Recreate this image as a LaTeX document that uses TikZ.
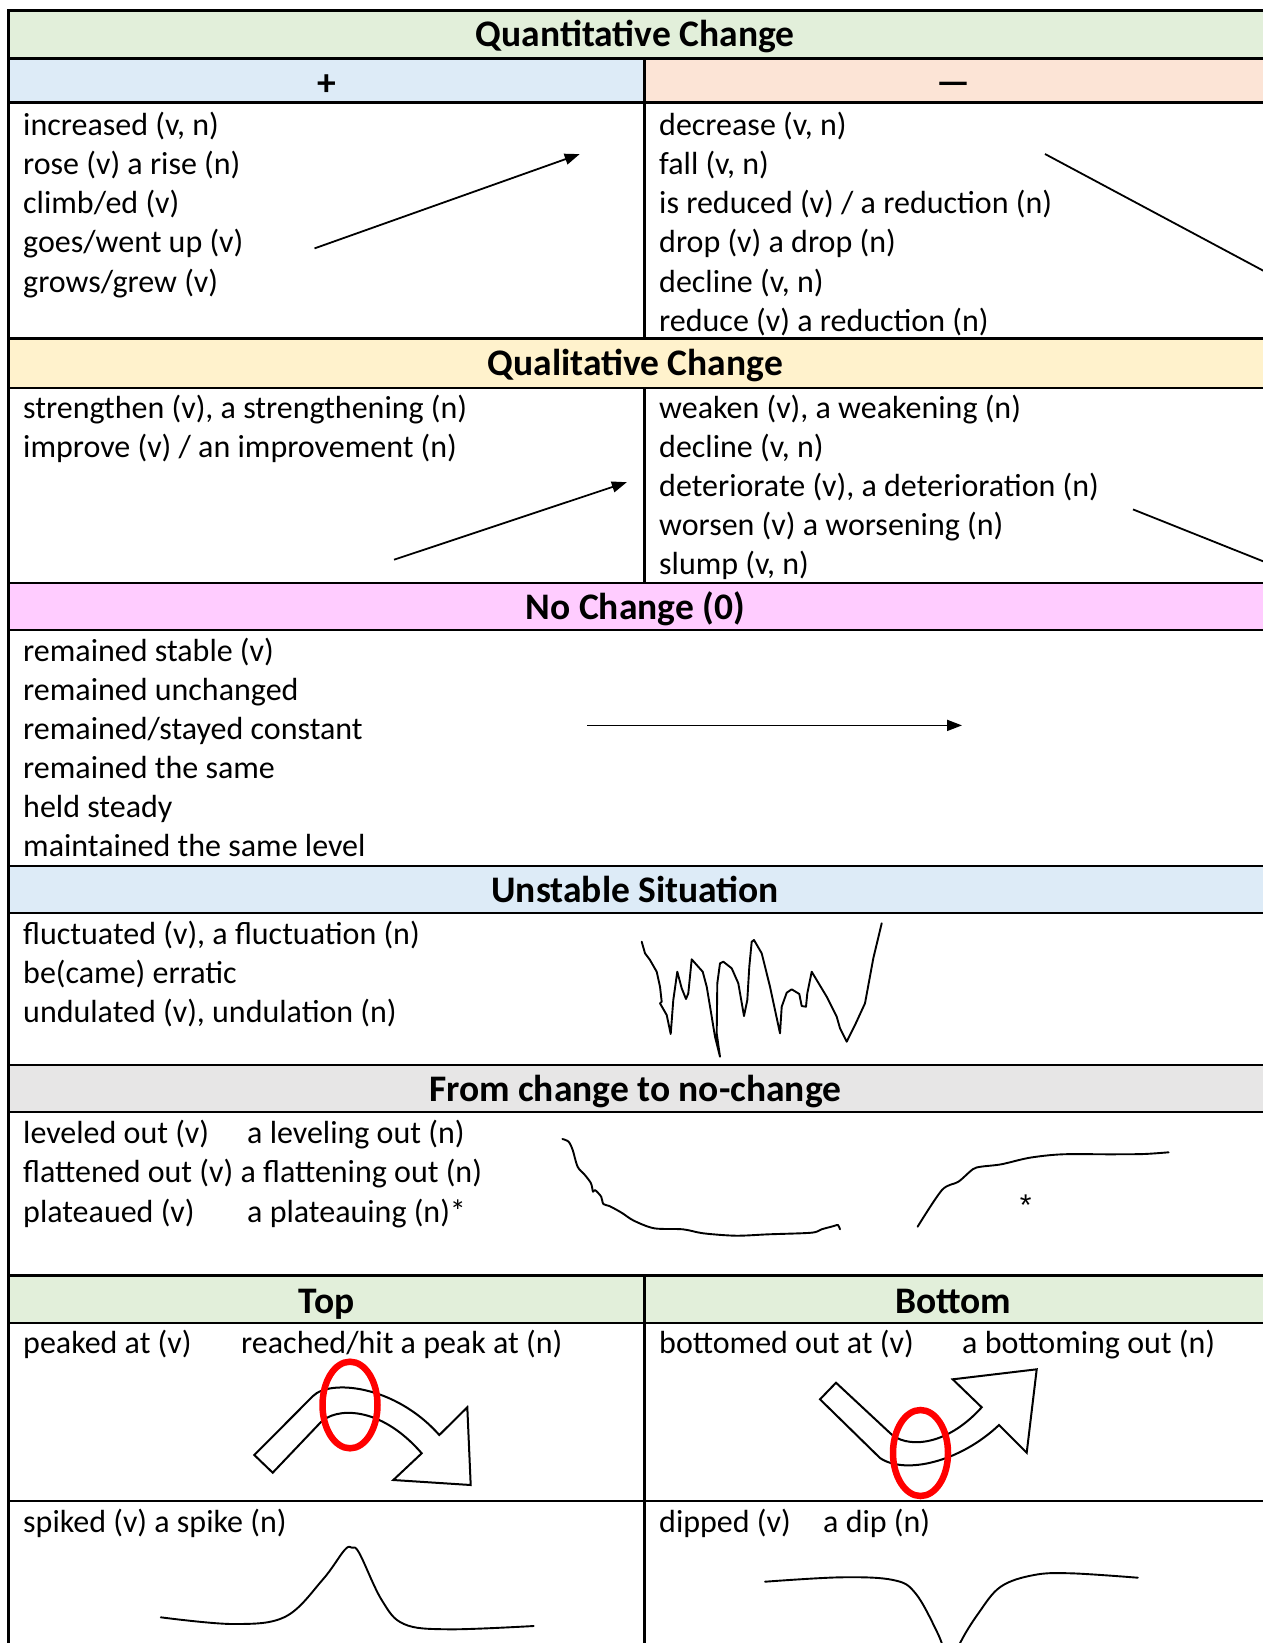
\documentclass[tikz,border=0pt]{standalone}
\usepackage{fontspec}
\setmainfont{Carlito}
\newfontfamily\starfont{Liberation Sans}
\usetikzlibrary{arrows.meta}

\definecolor{hdgreen}{HTML}{E2EFDA}
\definecolor{hdblue}{HTML}{DDEBF7}
\definecolor{hdpeach}{HTML}{FCE4D6}
\definecolor{hdyellow}{HTML}{FFF2CC}
\definecolor{hdpink}{HTML}{FFCCFF}
\definecolor{hdgray}{HTML}{E7E6E6}

\tikzset{
  rule/.style={line width=2.6pt},
  body/.style={font=\fontsize{32}{38}\selectfont, inner sep=0pt, anchor=base west},
  head/.style={font=\fontsize{37.5}{42}\selectfont\bfseries, inner sep=0pt, anchor=base},
  sign/.style={font=\fontsize{37.5}{42}\selectfont\bfseries, inner sep=0pt, anchor=center},
  trend/.style={line width=1.8pt, -{Triangle[length=15pt,width=11pt]}},
  pen/.style={line width=1.9pt, line join=round, line cap=round},
  blockarrow/.style={line width=2pt, fill=white, line join=miter},
  ring/.style={draw=red, line width=6.5pt},
}

\begin{document}
\begin{tikzpicture}[x=1pt,y=-1pt]
\useasboundingbox (0,0) rectangle (1262,1643);

% header bands
\fill[hdgreen]  (8.4,10.5)   rectangle (1264,58.7);
\fill[hdblue]   (8.4,58.7)   rectangle (644.6,102.7);
\fill[hdpeach]  (644.6,58.7) rectangle (1264,102.7);
\fill[hdyellow] (8.4,338.6)  rectangle (1264,387.8);
\fill[hdpink]   (8.4,582.8)  rectangle (1264,630);
\fill[hdblue]   (8.4,865.8)  rectangle (1264,913);
\fill[hdgray]   (8.4,1065)   rectangle (1264,1112);
\fill[hdgreen]  (8.4,1275.6) rectangle (1264,1322.8);

% table rules
\foreach \r in {10.5,58.7,102.7,338.6,387.8,582.8,630,865.8,913,1065,1112,1275.6,1322.8,1501}
  \draw[rule] (8.4,\r) -- (1264,\r);
\draw[rule] (8.4,9.2) -- (8.4,1650);
\draw[rule] (644.6,58.7) -- (644.6,338.6);
\draw[rule] (644.6,387.8) -- (644.6,582.8);
\draw[rule] (644.6,1275.6) -- (644.6,1650);

% headings
\node[head] (hquant) at (635.2,46.8) {Quantitative Change};
\node[sign] (hplus)  at (326.5,85) {+};
\node[sign] (hminus) at (953.3,88) {—};
\node[head] (hqual)  at (635.2,375.7) {Qualitative Change};
\node[head] (hnone)  at (635.2,619) {No Change (0)};
\node[head] (hunst)  at (635.2,902) {Unstable Situation};
\node[head] (hlevel) at (635.2,1101.2) {From change to no-change};
\node[head] (htop)   at (326.5,1313.5) {Top};
\node[head] (hbot)   at (953.3,1313.5) {Bottom};

% quantitative change
\foreach \t [count=\i from 0] in {{increased (v, n)},{rose (v) a rise (n)},{climb/ed (v)},{goes/went up (v)},{grows/grew (v)}}
  \node[body] (qup\i) at (23,{135.6+39.1*\i}) {\t};
\foreach \t [count=\i from 0] in {{decrease (v, n)},{fall (v, n)},{is reduced (v) / a reduction (n)},{drop (v) a drop (n)},{decline (v, n)},{reduce (v) a reduction (n)}}
  \node[body] (qdown\i) at (659,{135.6+39.1*\i}) {\t};

% qualitative change
\foreach \t [count=\i from 0] in {{strengthen (v), a strengthening (n)},{improve (v) / an improvement (n)}}
  \node[body] (lup\i) at (23,{418+39.1*\i}) {\t};
\foreach \t [count=\i from 0] in {{weaken (v), a weakening (n)},{decline (v, n)},{deteriorate (v), a deterioration (n)},{worsen (v) a worsening (n)},{slump (v, n)}}
  \node[body] (ldown\i) at (659,{418+39.1*\i}) {\t};

% no change
\foreach \t [count=\i from 0] in {{remained stable (v)},{remained unchanged},{remained/stayed constant},{remained the same},{held steady},{maintained the same level}}
  \node[body] (flat\i) at (23,{661.5+39*\i}) {\t};

% unstable situation
\foreach \t [count=\i from 0] in {{fluctuated (v), a fluctuation (n)},{be(came) erratic},{undulated (v), undulation (n)}}
  \node[body] (wave\i) at (23,{944.5+39.2*\i}) {\t};

% from change to no-change
\node[body] (lev0)  at (23,1143.7)  {leveled out (v)};
\node[body] (lev0n) at (247,1143.7) {a leveling out (n)};
\node[body] (lev1)  at (23,1182.7)  {flattened out (v) a flattening out (n)};
\node[body] (lev2)  at (23,1222.2)  {plateaued (v)};
\node[body] (lev2n) at (247,1222.2) {a plateauing (n)*};
\node[font=\starfont\fontsize{30}{32}\selectfont, inner sep=0pt] (star) at (1025.7,1205) {*};

% top / bottom
\node[body] (peak)  at (23,1353)  {peaked at (v)};
\node[body] (peakn) at (241,1353) {reached/hit a peak at (n)};
\node[body] (bott)  at (659,1353) {bottomed out at (v)};
\node[body] (bottn) at (962,1353) {a bottoming out (n)};
\node[body] (spike) at (23,1532.5)  {spiked (v) a spike (n)};
\node[body] (dip)   at (659,1532.5) {dipped (v)};
\node[body] (dipn)  at (823,1532.5) {a dip (n)};

% trend arrows
\coordinate (a1s) at (314.5,248.4);  \coordinate (a1e) at (579.7,154.1);
\coordinate (a2s) at (1045,154);     \coordinate (a2e) at (1305,293);
\coordinate (a3s) at (394,559.7);    \coordinate (a3e) at (626.8,482.2);
\coordinate (a4s) at (1133,509.4);   \coordinate (a4e) at (1305,578);
\coordinate (a5s) at (587,725.4);    \coordinate (a5e) at (962,725.4);
\draw[trend] (a1s) -- (a1e);
\draw[trend] (a2s) -- (a2e);
\draw[trend] (a3s) -- (a3e);
\draw[trend] (a4s) -- (a4e);
\draw[trend] (a5s) -- (a5e);

% fluctuating line
\draw[pen] (641.7,941.7) -- (645,953.3) -- (650,960) -- (656.7,971.7) -- (660,986.7)
  -- (661.7,1001.7) -- (660,1003.3) -- (666.7,1015) -- (670.7,1034) -- (673.3,1000)
  -- (677.3,971.7) -- (681.7,988.3) -- (686,999) -- (688.3,993.3) -- (691.7,959.3)
  -- (696.7,965) -- (702.7,971.7) -- (706.7,986.7) -- (711.7,1016.7) -- (715,1036.7)
  -- (720,1056.7) -- (716.7,1033.3) -- (717.3,983.3) -- (720,963.3) -- (723.3,961.7)
  -- (731.7,968.3) -- (738.3,983.3) -- (744,1016) -- (747.3,1000) -- (749.3,966.7)
  -- (751.7,941.7) -- (754,940) -- (761.7,953.3) -- (770,986.7) -- (780,1033.3)
  -- (781.7,1006.7) -- (786.7,992.7) -- (791.7,989.3) -- (799.3,994) -- (801.7,1006)
  -- (806,1006.7) -- (807.3,993.3) -- (811.7,971.7) -- (826.7,996.7) -- (836.7,1016.7)
  -- (840,1028.3) -- (846.7,1041.7) -- (855,1025) -- (865,1003.3) -- (873.3,958.3)
  -- (881.7,923.3);

% levelling-out curves
\draw[pen] plot[smooth, tension=0.5] coordinates {(562.4,1139) (568.6,1141.7) (572.7,1150)
  (577.6,1166.7) (584.9,1175) (591,1183.3) (593,1191.7) (595,1190) (601.2,1196.7)
  (603.3,1204) (609.4,1206) (621.6,1212.7) (633.9,1220.7) (654.3,1228.3) (682.9,1229.3)
  (703.3,1233.3) (735.9,1235.7) (768.6,1234.3) (811.4,1232.7) (821.6,1229.3)
  (833.9,1226) (838,1225) (840,1229.3)};
\draw[pen] plot[smooth, tension=0.5] coordinates {(917.6,1226.7) (942,1190) (958.4,1181.7)
  (972.7,1169.3) (980.8,1166.7) (1001.2,1164.3) (1029.8,1157.7) (1062.4,1154.3)
  (1111.4,1154.3) (1144,1154) (1168.6,1152.3)};

% peak arrow
\draw[blockarrow] (254.3,1455) -- (313,1396) .. controls (330,1379) and (395,1385) .. (439.3,1435)
  -- (467.3,1407.3) -- (470.7,1485) -- (393.3,1480) -- (421.7,1453.3)
  .. controls (380,1405) and (335,1407) .. (320,1423) -- (272.7,1472.7) -- cycle;
\draw[ring] (350,1405) ellipse [x radius=27.5pt, y radius=43.3pt];

% bottom arrow
\draw[blockarrow] (820,1399.3) -- (836,1382.7) -- (890,1433) .. controls (905,1448) and (945,1448) .. (981.7,1407.3)
  -- (952.7,1379.3) -- (1036.7,1369.3) -- (1026.7,1452.7) -- (999,1425)
  .. controls (960,1462) and (905,1475) .. (880,1458) -- cycle;
\draw[ring] (920.5,1453) ellipse [x radius=27.5pt, y radius=43pt];

% spike and dip
\draw[pen] plot[smooth, tension=0.6] coordinates {(160.8,1617.3) (233.4,1624) (285.3,1616.7)
  (322.4,1580) (344.6,1550) (352,1547.7) (359.4,1553.3) (381.7,1600) (403.9,1624)
  (448.4,1629.3) (533.7,1626)};
\draw[pen] plot[smooth, tension=0.6] coordinates {(765,1581.7) (841.3,1577.3) (893.2,1580)
  (915.5,1593.3) (937.7,1633.3) (952,1668) (960,1643.3) (978.4,1613.3) (1000.7,1586.7)
  (1034,1575) (1071,1573.3) (1137.8,1577.7)};
\end{tikzpicture}
\end{document}
